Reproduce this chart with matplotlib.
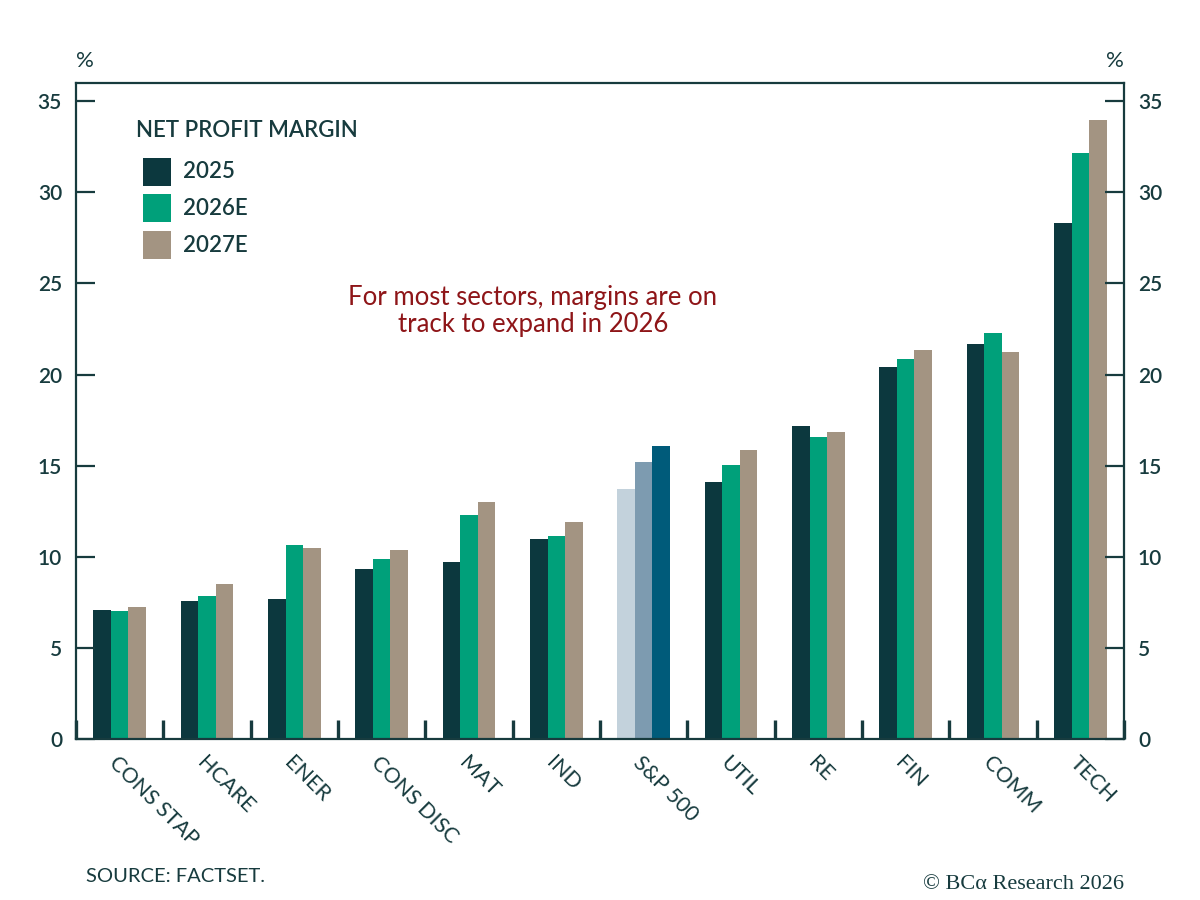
import matplotlib.pyplot as plt
import numpy as np
from matplotlib.patches import Rectangle

sectors = ["CONS STAP", "HCARE", "ENER", "CONS DISC", "MAT", "IND",
           "S&P 500", "UTIL", "RE", "FIN", "COMM", "TECH"]
m2025 = [7.1, 7.55, 7.7, 9.35, 9.7, 10.95, 13.7, 14.1, 17.15, 20.4, 21.7, 28.3]
m2026 = [7.05, 7.85, 10.65, 9.9, 12.3, 11.15, 15.2, 15.05, 16.55, 20.85, 22.3, 32.15]
m2027 = [7.25, 8.5, 10.5, 10.35, 13.0, 11.9, 16.1, 15.85, 16.85, 21.35, 21.25, 33.95]
series_names = ["2025", "2026E", "2027E"]

ink = "#173b3e"
cols = ["#0c383e", "#00a07a", "#a39482"]
spx_cols = ["#c3d2dc", "#7d9bb0", "#005b7a"]
spx_idx = sectors.index("S&P 500")

plt.rcParams['font.family'] = ['Lato', 'DejaVu Sans']

fig = plt.figure(figsize=(12, 9), dpi=100)
ax = fig.add_axes([0.0633, 0.1789, 0.8734, 0.7289])

x = np.arange(len(sectors))
w = 0.2
for k, vals in enumerate([m2025, m2026, m2027]):
    c = [spx_cols[k] if i == spx_idx else cols[k] for i in range(len(sectors))]
    ax.bar(x + (k - 1) * w, vals, width=w, color=c, linewidth=0)

ax.set_xlim(-0.5, len(sectors) - 0.5)
ax.set_ylim(0, 36)
ax.set_yticks(np.arange(0, 36, 5))

for s in ax.spines.values():
    s.set_color(ink)
    s.set_linewidth(1.6)

ax.tick_params(axis='y', which='major', direction='in', length=14, width=1.6,
               color=ink, left=True, right=True, labelleft=True, labelright=True,
               labelsize=15, labelcolor=ink, pad=10)
ax.set_xticks(x)
ax.set_xticks(np.arange(-0.5, len(sectors), 1), minor=True)
ax.tick_params(axis='x', which='major', length=0, pad=10)
ax.tick_params(axis='x', which='minor', direction='in', length=14, width=2.4, color=ink)
ax.set_xticklabels(sectors, rotation=-45, ha='left', va='top',
                   rotation_mode='anchor', fontsize=15.5, color=ink)
for t in ax.get_yticklabels():
    t.set_fontweight('semibold')

fig.text(0.071, 0.932, "%", fontsize=16, color=ink, ha='center', va='center')
fig.text(0.929, 0.932, "%", fontsize=16, color=ink, ha='center', va='center')

# legend drawn by hand in axes fraction
ax.text(0.0572, 0.928, "NET PROFIT MARGIN", transform=ax.transAxes, fontsize=16,
        color=ink, fontweight='semibold', va='center')
for k, name in enumerate(series_names):
    yc = 0.865 - k * 0.056
    ax.add_patch(Rectangle((0.0639, yc - 0.0214), 0.0267, 0.0428, transform=ax.transAxes,
                           color=cols[k], linewidth=0))
    ax.text(0.102, yc, name, transform=ax.transAxes, fontsize=16, color=ink,
            fontweight='semibold', va='center')

ax.text(0.436, 0.652, "For most sectors, margins are on\ntrack to expand in 2026",
        transform=ax.transAxes, fontsize=18.5, color="#8e1518", ha='center', va='center',
        linespacing=1.1)

fig.text(0.072, 0.0256, "SOURCE: FACTSET.", fontsize=14.5, color=ink, va='center')
fig.text(0.937, 0.0167, "© BCα Research 2026", fontsize=16, color=ink, ha='right',
         va='center', family=['Liberation Serif', 'DejaVu Serif'])

fig.savefig("out.png", dpi=100)
